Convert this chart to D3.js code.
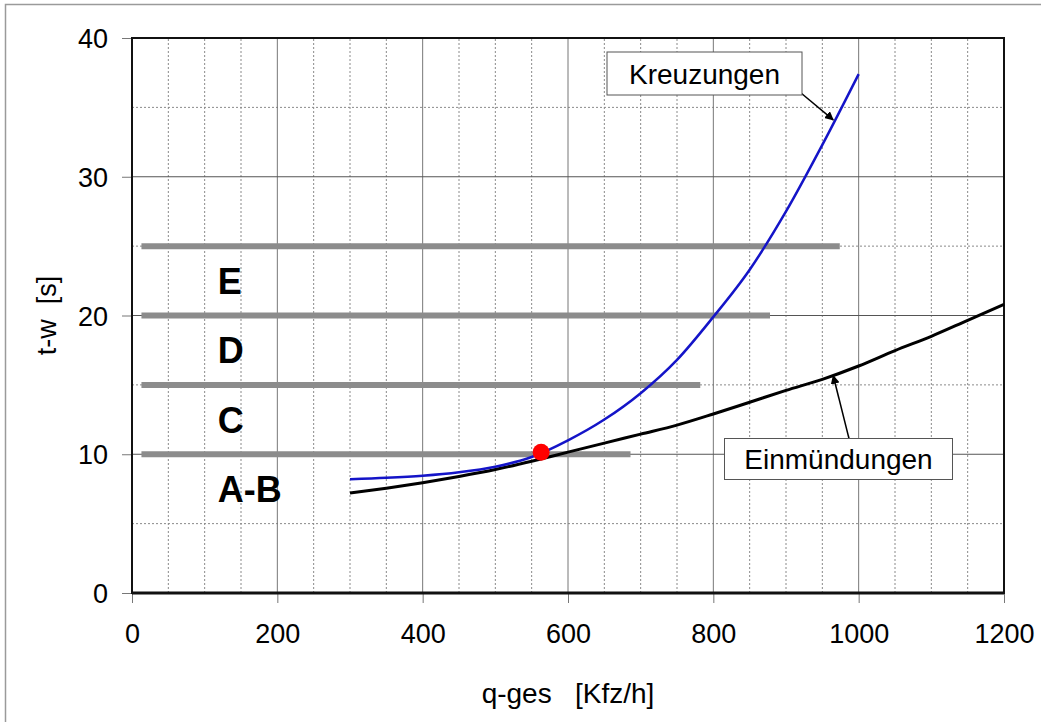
<!DOCTYPE html>
<html>
<head>
<meta charset="utf-8">
<script src="https://cdn.jsdelivr.net/npm/d3@7/dist/d3.min.js"></script>
<style>
  html, body { margin: 0; padding: 0; background: #fff; }
  svg { display: block; }
  text { font-family: "Liberation Sans", Arial, sans-serif; }
</style>
</head>
<body>
<svg id="chart" width="1041" height="722"></svg>
<script>
// ---- data ----
const xTicks = [0, 200, 400, 600, 800, 1000, 1200];
const yTicks = [0, 10, 20, 30, 40];
const kreuzungen = [
  [300, 8.2], [350, 8.3], [400, 8.45], [450, 8.7], [500, 9.1], [550, 9.8],
  [600, 11.0], [650, 12.5], [700, 14.4], [750, 16.8], [800, 19.9], [850, 23.3],
  [900, 27.5], [950, 32.3], [1000, 37.4]
];
const einmuendungen = [
  [300, 7.2], [350, 7.55], [400, 7.95], [450, 8.4], [500, 8.9], [550, 9.5],
  [600, 10.15], [650, 10.8], [700, 11.45], [750, 12.1], [800, 12.9], [850, 13.75],
  [900, 14.6], [950, 15.4], [1000, 16.36], [1050, 17.47], [1100, 18.5], [1150, 19.65],
  [1200, 20.8]
];
const levelValues = [10, 15, 20, 25];
const levelEnds = [686, 782, 878, 974];
const levelStart = 13;
const levelLabels = ["A-B", "C", "D", "E"];
const levelLabelMid = [7.5, 12.5, 17.5, 22.5];
const levelLabelX = 118;
const redPoint = [563, 10.15];
const kreuzArrowTip = [965, 34.1];
const einArrowTip = [965, 15.66];

// ---- setup ----
const svg = d3.select("#chart");
const x = d3.scaleLinear().domain([0, 1200]).range([132, 1004]);
const y = d3.scaleLinear().domain([0, 40]).range([593, 38]);

// outer frame
svg.append("path")
  .attr("d", "M5.5,722 V4.5 H1041")
  .attr("fill", "none").attr("stroke", "#9a9a9a").attr("stroke-width", 1.5);

// defs arrow
svg.append("defs").append("marker")
  .attr("id", "arr").attr("viewBox", "0 0 10 10").attr("refX", 9).attr("refY", 5)
  .attr("markerWidth", 9).attr("markerHeight", 9).attr("markerUnits", "userSpaceOnUse")
  .attr("orient", "auto")
  .append("path").attr("d", "M0,0 L10,5 L0,10 z").attr("fill", "#000");

const g = svg.append("g");

// minor grid (dotted)
const minorX = d3.range(50, 1200, 50).filter(v => v % 200 !== 0);
const minorY = d3.range(5, 40, 10);
g.selectAll(".mx").data(minorX).enter().append("line")
  .attr("x1", d => x(d)).attr("x2", d => x(d)).attr("y1", y(0)).attr("y2", y(40))
  .attr("stroke", "#8a8a8a").attr("stroke-width", 1).attr("stroke-dasharray", "2,2");
g.selectAll(".my").data(minorY).enter().append("line")
  .attr("x1", x(0)).attr("x2", x(1200)).attr("y1", d => y(d)).attr("y2", d => y(d))
  .attr("stroke", "#8a8a8a").attr("stroke-width", 1).attr("stroke-dasharray", "2,2");

// major grid
g.selectAll(".gx").data(xTicks.slice(1, -1)).enter().append("line")
  .attr("x1", d => x(d)).attr("x2", d => x(d)).attr("y1", y(0)).attr("y2", y(40))
  .attr("stroke", "#777").attr("stroke-width", 1);
g.selectAll(".gy").data(yTicks.slice(1, -1)).enter().append("line")
  .attr("x1", x(0)).attr("x2", x(1200)).attr("y1", d => y(d)).attr("y2", d => y(d))
  .attr("stroke", "#555").attr("stroke-width", 1);

// axes
const xAxis = d3.axisBottom(x).tickValues(xTicks).tickSize(10).tickPadding(21).tickFormat(d3.format("d"));
const yAxis = d3.axisLeft(y).tickValues(yTicks).tickSize(10).tickPadding(14).tickFormat(d3.format("d"));
const gx = svg.append("g").attr("transform", `translate(0,${y(0)})`).call(xAxis);
const gy = svg.append("g").attr("transform", `translate(${x(0)},0)`).call(yAxis);
[gx, gy].forEach(a => {
  a.select(".domain").remove();
  a.selectAll(".tick line").attr("stroke", "#777").attr("stroke-width", 1);
  a.selectAll(".tick text").attr("font-size", 27).attr("fill", "#000")
    .attr("font-family", "'Liberation Sans', Arial, sans-serif");
});
gx.selectAll(".tick text").attr("dy", "0.71em");
gy.selectAll(".tick text").attr("dy", "0.36em");

// plot border
svg.append("rect").attr("x", x(0)).attr("y", y(40))
  .attr("width", x(1200) - x(0)).attr("height", y(0) - y(40))
  .attr("fill", "none").attr("stroke", "#111").attr("stroke-width", 2);
svg.append("line").attr("x1", x(0)).attr("x2", x(1200)).attr("y1", y(0)).attr("y2", y(0))
  .attr("stroke", "#111").attr("stroke-width", 3);

// level bars
svg.selectAll(".lvl").data(levelValues).enter().append("line")
  .attr("x1", x(levelStart)).attr("x2", (d, i) => x(levelEnds[i]))
  .attr("y1", d => y(d)).attr("y2", d => y(d))
  .attr("stroke", "#8c8c8c").attr("stroke-width", 6);

// level labels
svg.selectAll(".lbl").data(levelLabels).enter().append("text")
  .attr("x", x(levelLabelX)).attr("y", (d, i) => y(levelLabelMid[i]) + 13)
  .attr("font-family", "'DejaVu Sans', Verdana, sans-serif").attr("font-weight", "bold")
  .attr("font-size", 36).attr("fill", "#000")
  .text(d => d);

// curves
const line = d3.line().x(d => x(d[0])).y(d => y(d[1])).curve(d3.curveMonotoneX);
svg.append("path").datum(einmuendungen).attr("d", line)
  .attr("fill", "none").attr("stroke", "#000").attr("stroke-width", 3);
svg.append("path").datum(kreuzungen).attr("d", line)
  .attr("fill", "none").attr("stroke", "#1414c8").attr("stroke-width", 2.5);

// red point
svg.append("circle").attr("cx", x(redPoint[0])).attr("cy", y(redPoint[1])).attr("r", 8.5)
  .attr("fill", "#ff0000");

// annotations
function callout(text, bx, by, bw, bh, tail, tip) {
  svg.append("line").attr("x1", tail[0]).attr("y1", tail[1])
    .attr("x2", x(tip[0])).attr("y2", y(tip[1]))
    .attr("stroke", "#000").attr("stroke-width", 1.5).attr("marker-end", "url(#arr)");
  svg.append("rect").attr("x", bx).attr("y", by).attr("width", bw).attr("height", bh)
    .attr("fill", "#fff").attr("stroke", "#555").attr("stroke-width", 1);
  svg.append("text").attr("x", bx + bw / 2).attr("y", by + bh / 2)
    .attr("dy", "0.36em").attr("text-anchor", "middle")
    .attr("font-size", 28).attr("fill", "#000").text(text);
}
callout("Kreuzungen", 607, 52, 195, 43, [801, 93], kreuzArrowTip);
callout("Einmündungen", 724.5, 438.5, 228, 41, [849, 438.5], einArrowTip);

// axis titles
svg.append("text").attr("transform", `translate(46,${y(20)}) rotate(-90)`)
  .attr("text-anchor", "middle").attr("dy", "0.36em")
  .attr("font-size", 27).attr("fill", "#000")
  .style("white-space", "pre").text("t-w  [s]");
svg.append("text").attr("x", x(600)).attr("y", 703)
  .attr("text-anchor", "middle")
  .attr("font-size", 28).attr("fill", "#000")
  .style("white-space", "pre").text("q-ges   [Kfz/h]");
</script>
</body>
</html>
